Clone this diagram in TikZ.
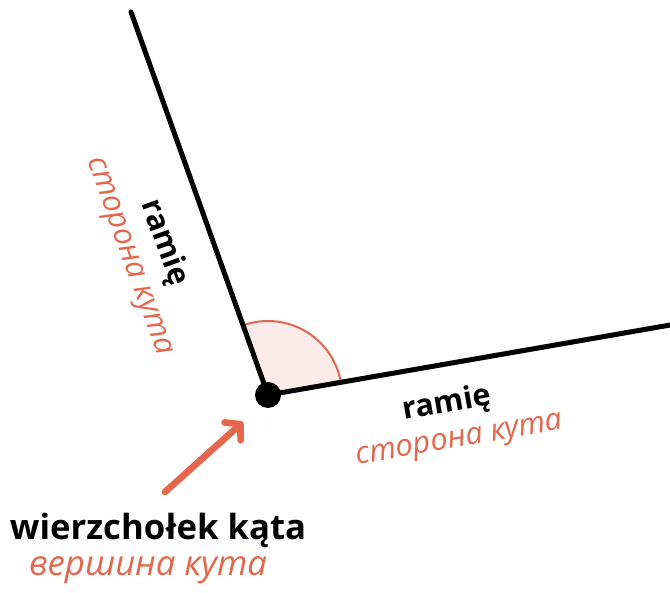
\documentclass[tikz,border=0pt]{standalone}
\usepackage{fontspec}
\setmainfont{Open Sans}
\usetikzlibrary{arrows.meta}
\definecolor{kat}{HTML}{E5664A}
\definecolor{katfill}{HTML}{FBECEA}
\begin{document}
\begin{tikzpicture}[x=0.75pt,y=0.75pt,line cap=round,>={Straight Barb[length=8pt,width=18pt,round]},
  ramie/.style={font=\fontsize{23}{27}\selectfont\bfseries},
  storona/.style={font=\fontsize{23}{27}\selectfont\itshape,text=kat}]
\useasboundingbox (0,0) rectangle (670,592);
\coordinate (v) at (268,197);
\coordinate (top) at (131,580);
\coordinate (right) at (672,267.3);
\fill[katfill] (v) -- ++(9.9:74) arc[start angle=9.9,end angle=109.7,radius=74] -- cycle;
\draw[kat,line width=1.5pt] (v) ++(9.9:74) arc[start angle=9.9,end angle=109.7,radius=74];
\draw[line width=3.75pt] (top) -- (v) -- (right);
\node[circle,fill=black,inner sep=0pt,minimum size=19.5pt] (vx) at (v) {};
\node[ramie,rotate=-70.3] (rl) at (164,349) {ramię};
\node[storona,rotate=-70.3] (sl) at (127,335) {сторона кута};
\node[ramie,rotate=9.9] (rr) at (447,188) {ramię};
\node[storona,rotate=9.9] (sr) at (460,150) {сторона кута};
\node[font=\fontsize{26}{31}\selectfont\bfseries] (wk) at (158,62) {wierzchołek kąta};
\node[font=\fontsize{26}{31}\selectfont\itshape,text=kat] (wr) at (148,22) {вершина кута};
\coordinate (tail) at (165,100);
\coordinate (tip) at (243,170);
\draw[->,kat,line width=5pt] (tail) -- (tip);
\end{tikzpicture}
\end{document}
